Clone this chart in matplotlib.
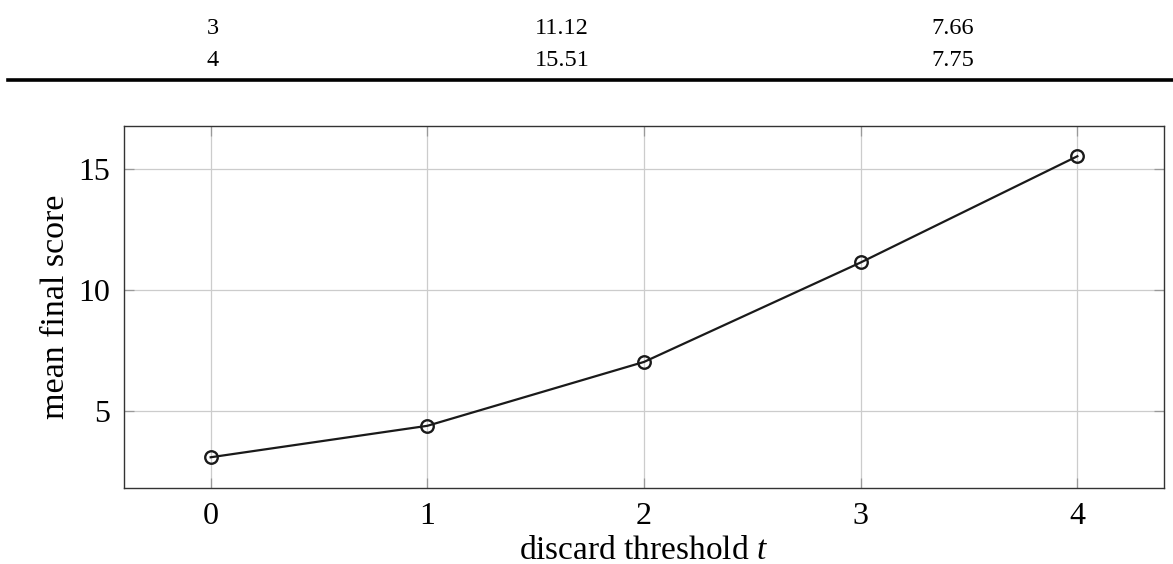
import matplotlib
matplotlib.use('Agg')
import matplotlib.pyplot as plt

# table rows visible above the chart
table_t = ['3', '4']
table_mean = ['11.12', '15.51']
table_std = ['7.66', '7.75']

# chart data
thresholds = [0, 1, 2, 3, 4]
mean_score = [3.07, 4.37, 7.01, 11.12, 15.51]

plt.rcParams['font.family'] = 'Liberation Serif'
plt.rcParams['mathtext.fontset'] = 'custom'
plt.rcParams['mathtext.it'] = 'Liberation Serif:italic'
plt.rcParams['mathtext.rm'] = 'Liberation Serif'

fig = plt.figure(figsize=(11.73, 5.64), dpi=100)

# partial table at the top
col_x = [213 / 1173, 562 / 1173, 953 / 1173]
row_y = [1 - 28 / 564, 1 - 60 / 564]
for i in range(len(table_t)):
    for x, val in zip(col_x, [table_t[i], table_mean[i], table_std[i]]):
        fig.text(x, row_y[i], val, ha='center', va='center', fontsize=17.5)
fig.add_artist(plt.Line2D([8 / 1173, 1.0], [1 - 80 / 564] * 2, color='black', lw=2.6))

ax = fig.add_axes([124 / 1173, 1 - 488 / 564, 1040 / 1173, 362 / 564])
ax.plot(thresholds, mean_score, color='#1a1a1a', lw=1.6, marker='o', ms=9,
        mfc='none', mec='#1a1a1a', mew=1.7, zorder=3)

ax.set_xlim(-0.4, 4.4)
ax.set_ylim(1.8, 16.76)
ax.set_xticks(thresholds)
ax.set_yticks([5, 10, 15])
ax.grid(True, color='#cccccc', lw=0.9)
ax.set_axisbelow(True)
ax.tick_params(direction='in', length=7, width=0.9, color='#999999',
               top=True, right=True, labelsize=23, pad=10)
for s in ax.spines.values():
    s.set_color('#333333')
    s.set_linewidth(1.0)

ax.set_xlabel(r'discard threshold $t$', fontsize=24, labelpad=3)
ax.set_ylabel('mean final score', fontsize=24.5, labelpad=5)

fig.savefig('out.png', dpi=100)
